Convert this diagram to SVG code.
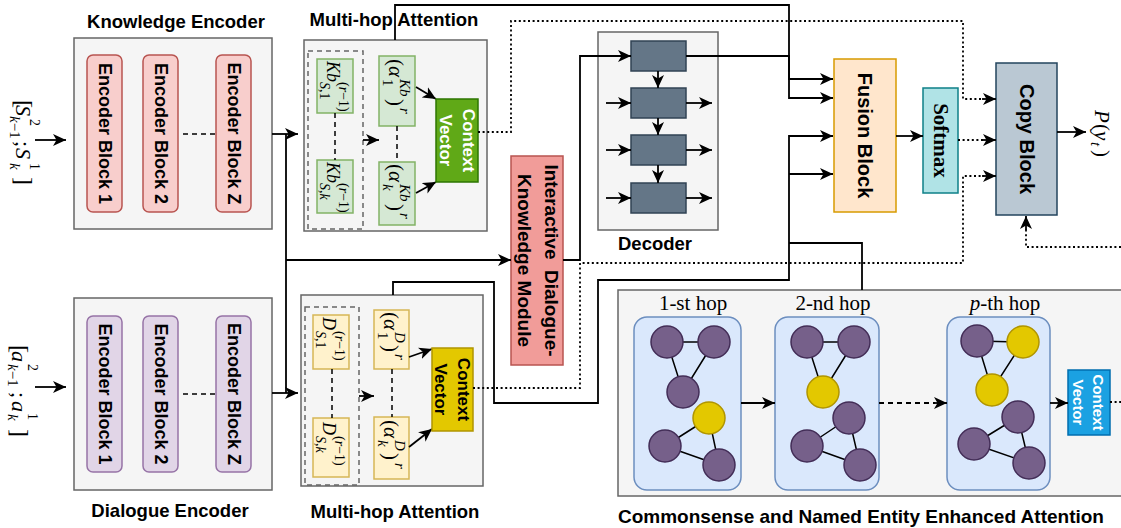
<svg xmlns="http://www.w3.org/2000/svg" width="1121" height="528" viewBox="0 0 1121 528">
<style>
.bg{fill:#fff}
.box{fill:#f5f5f5;stroke:#666;stroke-width:1.5}
.dbox{fill:none;stroke:#666;stroke-width:1.5;stroke-dasharray:5 4}
.title{font-family:"Liberation Sans",Arial,sans-serif;font-weight:bold;font-size:18.5px;text-anchor:middle;fill:#000}
.vt{font-family:"Liberation Sans",Arial,sans-serif;font-weight:bold;text-anchor:middle;dominant-baseline:central;fill:#000}
.f18{font-size:18px}
.f17{font-size:17px}
.f19{font-size:19px}
.f20{font-size:20px}
.f15{font-size:15px}
.wt{fill:#fff}
.sm{font-family:"Liberation Serif","Times New Roman",serif;font-weight:bold;font-size:21px;text-anchor:middle;dominant-baseline:central;fill:#000}
.kb{fill:#f8cecc;stroke:#b85450;stroke-width:1.5}
.db{fill:#e1d5e7;stroke:#9673a6;stroke-width:1.5}
.gr{fill:#d5e8d4;stroke:#82b366;stroke-width:1.5}
.yl{fill:#fff2cc;stroke:#d6b656;stroke-width:1.5}
.dec{fill:#647687;stroke:#314354;stroke-width:1.5}
.hop{fill:#dae8fc;stroke:#6c8ebf;stroke-width:1.5}
.pn{fill:#76608a;stroke:#432d57;stroke-width:1.5}
.yn{fill:#e3c800;stroke:#b09500;stroke-width:1.5}
.edge{stroke:#000;stroke-width:1.5}
.m{font-family:"Liberation Serif","Times New Roman",serif;fill:#000}
.i{font-style:italic}
.ln{fill:none;stroke:#000;stroke-width:1.8}
.ar{fill:none;stroke:#000;stroke-width:1.8;marker-end:url(#ah)}
.dot{fill:none;stroke:#000;stroke-width:1.8;stroke-dasharray:2 2.6}
.dsh{fill:none;stroke:#000;stroke-width:1.5;stroke-dasharray:5 4}
.hl{font-family:"Liberation Serif","Times New Roman",serif;font-size:21px;text-anchor:middle;fill:#000}
</style>
<defs>
<marker id="ah" markerWidth="14" markerHeight="12" refX="13" refY="6" orient="auto" markerUnits="userSpaceOnUse"><path d="M0,0 L13,6 L0,12 L3.5,6 z" fill="#000"/></marker>
</defs>
<rect class="bg" x="0" y="0" width="1121" height="528"/>

<g id="knowledge-encoder">
<text class="title" x="176" y="28">Knowledge Encoder</text>
<rect class="box" x="74" y="38" width="198" height="191"/>
<rect class="kb" x="87" y="55" width="35" height="157" rx="6"/>
<rect class="kb" x="143" y="55" width="35" height="157" rx="6"/>
<rect class="kb" x="216" y="55" width="35" height="157" rx="6"/>
<text class="vt f18" transform="translate(104.5,133.5) rotate(90)">Encoder Block 1</text>
<text class="vt f18" transform="translate(160.5,133.5) rotate(90)">Encoder Block 2</text>
<text class="vt f18" transform="translate(233.5,133.5) rotate(90)">Encoder Block Z</text>
<path class="dsh" d="M183,134 H216"/>
</g>

<g id="knowledge-input-label" transform="translate(16,100) rotate(90)">
<text class="m" font-size="22"><tspan x="0" y="0" font-size="24">[</tspan><tspan class="i" x="5" y="0">S</tspan><tspan x="19" y="-14" font-size="14">2</tspan><tspan class="i" x="16" y="6" font-size="15">k</tspan><tspan y="6" font-size="15">−1</tspan><tspan x="41" y="0">;</tspan><tspan class="i" x="48" y="0">S</tspan><tspan x="63" y="-14" font-size="14">1</tspan><tspan class="i" x="63" y="6" font-size="15">k</tspan><tspan x="77" y="0" font-size="24">]</tspan></text>
</g>

<g id="dialogue-encoder">
<text class="title" x="170" y="517">Dialogue Encoder</text>
<rect class="box" x="74" y="298" width="198" height="192"/>
<rect class="db" x="87" y="316" width="35" height="156" rx="6"/>
<rect class="db" x="143" y="316" width="35" height="156" rx="6"/>
<rect class="db" x="216" y="316" width="35" height="156" rx="6"/>
<text class="vt f18" transform="translate(104.5,394) rotate(90)">Encoder Block 1</text>
<text class="vt f18" transform="translate(160.5,394) rotate(90)">Encoder Block 2</text>
<text class="vt f18" transform="translate(233.5,394) rotate(90)">Encoder Block Z</text>
<path class="dsh" d="M183,394 H216"/>
</g>

<g id="dialogue-input-label" transform="translate(12,345) rotate(90)">
<text class="m" font-size="22"><tspan x="0" y="0" font-size="24">[</tspan><tspan class="i" x="6" y="0">a</tspan><tspan x="19" y="-16" font-size="14">2</tspan><tspan class="i" x="19" y="4" font-size="15">k</tspan><tspan y="4" font-size="15">−1</tspan><tspan x="47" y="0">;</tspan><tspan class="i" x="56" y="0">a</tspan><tspan x="68" y="-16" font-size="14">1</tspan><tspan class="i" x="69" y="4" font-size="15">k</tspan><tspan x="84" y="0" font-size="24">]</tspan></text>
</g>

<g id="multihop-knowledge">
<text class="title" x="394" y="26">Multi-hop Attention</text>
<rect class="box" x="304" y="40" width="183" height="191"/>
<rect class="dbox" x="308" y="51" width="55" height="178"/>
<rect class="gr" x="317" y="59" width="36" height="54"/>
<rect class="gr" x="317" y="160" width="36" height="53"/>
<rect class="gr" x="379" y="56" width="36" height="70"/>
<rect class="gr" x="379" y="162" width="36" height="63"/>
<g transform="translate(335,59) rotate(90)"><text class="m" font-size="18"><tspan class="i" x="2" y="8">Kb</tspan><tspan x="23" y="-4" font-size="14">(<tspan class="i">r</tspan>−1)</tspan><tspan class="i" x="23" y="15" font-size="14">S</tspan><tspan font-size="14" y="15">,1</tspan></text></g>
<g transform="translate(335,160) rotate(90)"><text class="m" font-size="18"><tspan class="i" x="2" y="8">Kb</tspan><tspan x="23" y="-4" font-size="14">(<tspan class="i">r</tspan>−1)</tspan><tspan class="i" x="23" y="15" font-size="14">S</tspan><tspan font-size="14" y="15">,</tspan><tspan class="i" font-size="14" y="15">k</tspan></text></g>
<g transform="translate(397,56) rotate(90)"><text class="m" font-size="21"><tspan x="3" y="8">(</tspan><tspan class="i" x="10" y="8">α</tspan><tspan class="i" x="23" y="-3" font-size="15">Kb</tspan><tspan x="23" y="14" font-size="15">1</tspan><tspan x="43" y="8">)</tspan><tspan class="i" x="52" y="-3" font-size="15">r</tspan></text></g>
<g transform="translate(397,162) rotate(90)"><text class="m" font-size="21"><tspan x="2" y="8">(</tspan><tspan class="i" x="9" y="8">α</tspan><tspan class="i" x="22" y="-3" font-size="15">Kb</tspan><tspan class="i" x="22" y="14" font-size="15">k</tspan><tspan x="42" y="8">)</tspan><tspan class="i" x="51" y="-3" font-size="15">r</tspan></text></g>
<path class="dsh" d="M335,113 V160"/>
<path class="dsh" d="M397,126 V162"/>
<path class="ar" d="M363,140 H379"/>
<path class="ar" d="M416,87 L436,99"/>
<path class="ar" d="M416,193 L436,182"/>
<rect x="436" y="99" width="42" height="83" fill="#60a917" stroke="#2d7600" stroke-width="1.5"/>
<g transform="translate(457,140.5) rotate(90)"><text class="vt f17 wt" y="-11">Context</text><text class="vt f17 wt" y="12">Vector</text></g>
</g>

<g id="multihop-dialogue">
<text class="title" x="395" y="518">Multi-hop Attention</text>
<rect class="box" x="301" y="295" width="182" height="191"/>
<rect class="dbox" x="305" y="307" width="54" height="178"/>
<rect class="yl" x="313" y="315" width="36" height="54"/>
<rect class="yl" x="313" y="418" width="36" height="59"/>
<rect class="yl" x="374" y="310" width="35" height="59"/>
<rect class="yl" x="374" y="417" width="35" height="62"/>
<g transform="translate(331,315) rotate(90)"><text class="m" font-size="18"><tspan class="i" x="2" y="8">D</tspan><tspan x="16" y="-4" font-size="14">(<tspan class="i">r</tspan>−1)</tspan><tspan class="i" x="16" y="15" font-size="14">S</tspan><tspan font-size="14" y="15">,1</tspan></text></g>
<g transform="translate(331,418) rotate(90)"><text class="m" font-size="18"><tspan class="i" x="4" y="8">D</tspan><tspan x="18" y="-4" font-size="14">(<tspan class="i">r</tspan>−1)</tspan><tspan class="i" x="18" y="15" font-size="14">S</tspan><tspan font-size="14" y="15">,</tspan><tspan class="i" font-size="14" y="15">k</tspan></text></g>
<g transform="translate(391.5,310) rotate(90)"><text class="m" font-size="21"><tspan x="2" y="8">(</tspan><tspan class="i" x="9" y="8">α</tspan><tspan class="i" x="22" y="-3" font-size="15">D</tspan><tspan x="22" y="14" font-size="15">1</tspan><tspan x="35" y="8">)</tspan><tspan class="i" x="44" y="-3" font-size="15">r</tspan></text></g>
<g transform="translate(391.5,417) rotate(90)"><text class="m" font-size="21"><tspan x="3" y="8">(</tspan><tspan class="i" x="10" y="8">α</tspan><tspan class="i" x="23" y="-3" font-size="15">D</tspan><tspan class="i" x="23" y="14" font-size="15">k</tspan><tspan x="36" y="8">)</tspan><tspan class="i" x="46" y="-3" font-size="15">r</tspan></text></g>
<path class="dsh" d="M332,369 V418"/>
<path class="dsh" d="M392,369 V417"/>
<path class="ar" d="M359,396 H374"/>
<path class="ar" d="M409,357 L432,349"/>
<path class="ar" d="M409,447 L432,429"/>
<rect x="432" y="348" width="41" height="83" fill="#e3c800" stroke="#b09500" stroke-width="1.5"/>
<g transform="translate(452.5,389.5) rotate(90)"><text class="vt f17" y="-11">Context</text><text class="vt f17" y="12">Vector</text></g>
</g>

<g id="interactive-module">
<rect x="511" y="156" width="52" height="209" fill="#f19c99" stroke="#b85450" stroke-width="1.5"/>
<g transform="translate(537,260.5) rotate(90)"><text class="vt f19" y="-14">Interactive&#160; Dialogue-</text><text class="vt f19" y="13">Knowledge Module</text></g>
</g>

<g id="decoder">
<rect class="box" x="598" y="32" width="120" height="198"/>
<rect class="dec" x="631" y="41" width="55" height="30"/>
<rect class="dec" x="631" y="88" width="55" height="30"/>
<rect class="dec" x="631" y="135" width="55" height="30"/>
<rect class="dec" x="631" y="183" width="55" height="30"/>
<text class="title" x="655" y="250">Decoder</text>
</g>

<g id="fusion-block">
<rect x="834" y="59" width="62" height="153" fill="#ffe6cc" stroke="#d79b00" stroke-width="1.5"/>
<text class="vt f20" transform="translate(865,135.5) rotate(90)">Fusion Block</text>
</g>

<g id="softmax">
<rect x="923" y="88" width="35" height="105" fill="#b0e3e6" stroke="#0e8088" stroke-width="1.5"/>
<text class="sm" transform="translate(940.5,140.5) rotate(90)">Softmax</text>
</g>

<g id="copy-block">
<rect x="996" y="63" width="61" height="152" fill="#bac8d3" stroke="#23445d" stroke-width="1.5"/>
<text class="vt f20" transform="translate(1026.5,139) rotate(90)">Copy Block</text>
</g>

<g id="output-label" transform="translate(1095,110) rotate(90)">
<text class="m" font-size="21"><tspan class="i" x="0" y="0">P</tspan><tspan x="14" y="0">(</tspan><tspan class="i" x="21" y="0">y</tspan><tspan class="i" x="32" y="4" font-size="15">t</tspan><tspan x="40" y="0">)</tspan></text>
</g>

<g id="commonsense-attention">
<rect class="box" x="618" y="290" width="520" height="206"/>
<text class="title" x="618" y="523" style="text-anchor:start;font-size:19px">Commonsense and Named Entity Enhanced Attention</text>
<g id="hop-1">
<text class="hl" x="693" y="310">1-st hop</text>
<rect class="hop" x="634" y="317" width="107" height="173" rx="13"/>
<path class="edge" d="M667,342 L714,342 M667,342 L683,392 M714,342 L683,392 M709,418 L665,446 M709,418 L719,465 M665,446 L719,465"/>
<circle class="pn" cx="667" cy="342" r="16"/><circle class="pn" cx="714" cy="342" r="16"/><circle class="pn" cx="683" cy="392" r="16"/>
<circle class="yn" cx="709" cy="418" r="16"/><circle class="pn" cx="665" cy="446" r="16"/><circle class="pn" cx="719" cy="465" r="16"/>
</g>
<g id="hop-2">
<text class="hl" x="833" y="310">2-nd hop</text>
<rect class="hop" x="775" y="317" width="104" height="173" rx="13"/>
<path class="edge" d="M807,342 L854,342 M807,342 L823,392 M854,342 L823,392 M849,418 L807,446 M849,418 L860,465 M807,446 L860,465"/>
<circle class="pn" cx="807" cy="342" r="16"/><circle class="pn" cx="854" cy="342" r="16"/><circle class="yn" cx="823" cy="392" r="16"/>
<circle class="pn" cx="849" cy="418" r="16"/><circle class="pn" cx="807" cy="446" r="16"/><circle class="pn" cx="860" cy="465" r="16"/>
</g>
<g id="hop-p">
<text class="hl" x="1005" y="310"><tspan class="i">p</tspan>-th hop</text>
<rect class="hop" x="947" y="317" width="103" height="173" rx="13"/>
<path class="edge" d="M977,341 L1023,342 M977,341 L992,390 M1023,342 L992,390 M1018,417 L974,444 M1018,417 L1029,463 M974,444 L1029,463"/>
<circle class="pn" cx="977" cy="341" r="16"/><circle class="yn" cx="1023" cy="342" r="16"/><circle class="yn" cx="992" cy="390" r="16"/>
<circle class="pn" cx="1018" cy="417" r="16"/><circle class="pn" cx="974" cy="444" r="16"/><circle class="pn" cx="1029" cy="463" r="16"/>
</g>
<g id="context-vector-blue">
<rect x="1068" y="370" width="42" height="65" fill="#1ba1e2" stroke="#006eaf" stroke-width="1.5"/>
<g transform="translate(1089,402.5) rotate(90)"><text class="vt f15 wt" y="-9">Context</text><text class="vt f15 wt" y="11">Vector</text></g>
</g>
</g>

<g id="connectors">
<path class="ar" d="M35,140 H66"/>
<path class="ar" d="M35,387 H66"/>
<path class="ar" d="M272,134 H298"/>
<path class="ln" d="M286,134 V393"/>
<path class="ar" d="M272,393 H298"/>
<path class="ar" d="M286,260 H511"/>
<path class="ar" d="M395,40 V5 H789 V98 H833"/>
<path class="ar" d="M686,56 H789 V79 H833"/>
<path class="ar" d="M563,260 H580 V56 H631"/>
<path class="ar" d="M658,71 V88"/>
<path class="ar" d="M658,118 V135"/>
<path class="ar" d="M658,165 V183"/>
<path class="ar" d="M606,103 H631"/>
<path class="ar" d="M606,150 H631"/>
<path class="ar" d="M606,198 H631"/>
<path class="ar" d="M686,103 H712"/>
<path class="ar" d="M686,150 H712"/>
<path class="ar" d="M686,198 H712"/>
<path class="ar" d="M393,295 V282 H494 V403 H598 V280 H789 V136 H833"/>
<path class="ar" d="M789,174 H833"/>
<path class="ln" d="M862,290 V243 H789"/>
<path class="ar" d="M896,136 H923"/>
<path class="ar" d="M1057,132 H1086"/>
<path class="ar" d="M741,403 H775"/>
<path class="dsh" d="M879,403 H935" style="stroke-width:1.8"/>
<path class="ar" d="M935,403 H947"/>
<path class="ar" d="M1050,403 H1068"/>
<path class="dot" d="M478,132 H511 V21 H963 V99 H984"/>
<path class="ar" d="M982,99 H996"/>
<path class="dot" d="M958,140 H984"/>
<path class="ar" d="M982,140 H996"/>
<path class="dot" d="M473,388 H580 V263 H963 V176 H984"/>
<path class="ar" d="M982,176 H996"/>
<path class="dot" d="M1110,402 H1130 V247 H1026 V228"/>
<path class="ar" d="M1026,230 V216"/>
</g>
</svg>
